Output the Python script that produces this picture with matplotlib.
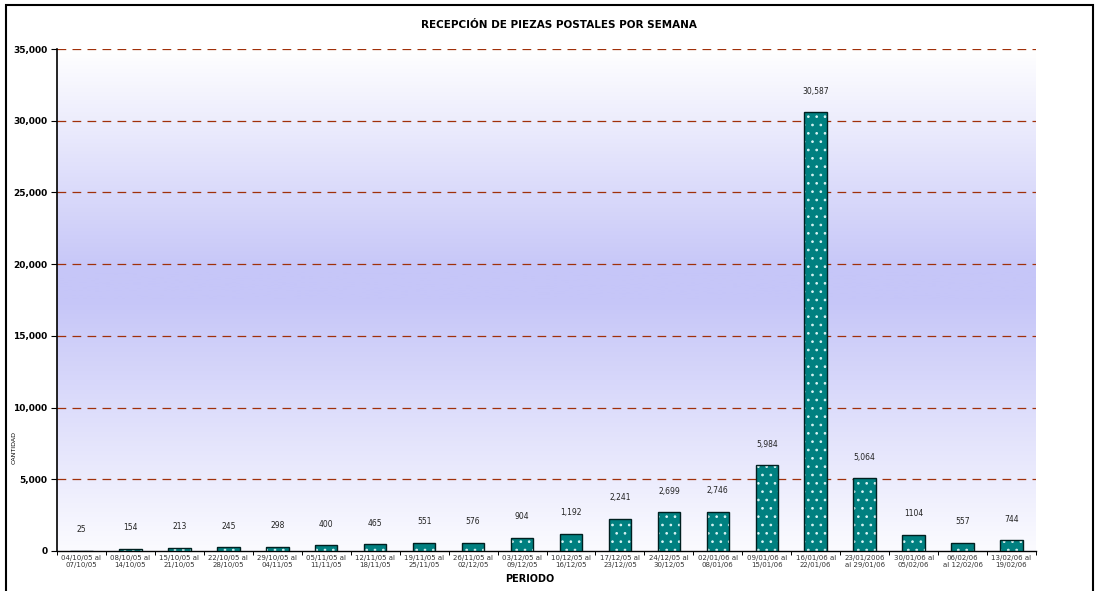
import numpy as np
import matplotlib.pyplot as plt
from matplotlib.patches import Rectangle
from matplotlib.colors import LinearSegmentedColormap

# Data
periodos = ["04/10/05 al\n07/10/05", "08/10/05 al\n14/10/05", "15/10/05 al\n21/10/05",
            "22/10/05 al\n28/10/05", "29/10/05 al\n04/11/05", "05/11/05 al\n11/11/05",
            "12/11/05 al\n18/11/05", "19/11/05 al\n25/11/05", "26/11/05 al\n02/12/05",
            "03/12/05 al\n09/12/05", "10/12/05 al\n16/12/05", "17/12/05 al\n23/12//05",
            "24/12/05 al\n30/12/05", "02/01/06 al\n08/01/06", "09/01/06 al\n15/01/06",
            "16/01/06 al\n22/01/06", "23/01/2006\nal 29/01/06", "30/01/06 al\n05/02/06",
            "06/02/06\nal 12/02/06", "13/02/06 al\n19/02/06"]
cantidad = [25, 154, 213, 245, 298, 400, 465, 551, 576, 904, 1192, 2241, 2699, 2746,
            5984, 30587, 5064, 1104, 557, 744]
etiquetas = ["25", "154", "213", "245", "298", "400", "465", "551", "576", "904", "1,192",
             "2,241", "2,699", "2,746", "5,984", "30,587", "5,064", "1104", "557", "744"]
yticks = [0, 5000, 10000, 15000, 20000, 25000, 30000, 35000]

plt.rcParams['hatch.linewidth'] = 0.7

fig = plt.figure(figsize=(10.99, 5.91), dpi=100)
ax = fig.add_axes([57/1099, 1 - 551/591, (1036 - 57)/1099, (551 - 49)/591])

# gradient background (white -> lavender -> white), 0 = bottom
cmap = LinearSegmentedColormap.from_list("bg", [(0, "#fbfbff"), (0.5, "#c6c6f8"),
                                               (0.56, "#c6c6f8"), (1.0, "#ffffff")])
grad = np.linspace(0, 1, 256).reshape(-1, 1)
ax.imshow(grad, aspect="auto", cmap=cmap, origin="lower",
          extent=(-0.5, len(cantidad) - 0.5, 0, 35000), zorder=0)

x = np.arange(len(cantidad))
ax.bar(x, cantidad, width=0.46, color="#008080", edgecolor="#d8f4f4", hatch="..",
       linewidth=0, zorder=3)
ax.bar(x, cantidad, width=0.46, fill=False, edgecolor="#002020", linewidth=1.0, zorder=4)

for xi, v, t in zip(x, cantidad, etiquetas):
    ax.annotate(t, (xi, v), xytext=(0, 12), textcoords="offset points", ha="center",
                va="bottom", fontsize=5.5, color="#222222")

for yv in yticks[1:]:
    ax.axhline(yv, color="#a0300a", linestyle=(0, (7, 5)), linewidth=0.9, zorder=2)

ax.set_xlim(-0.5, len(cantidad) - 0.5)
ax.set_ylim(0, 35000)
ax.set_yticks(yticks)
ax.set_yticklabels([f"{v:,}" for v in yticks], fontsize=6.5, fontweight="bold")
ax.set_xticks(x)
ax.set_xticklabels(periodos, fontsize=5, color="#333333")
ax.set_xticks(np.arange(len(cantidad) + 1) - 0.5, minor=True)
ax.tick_params(axis="x", which="major", length=0, pad=3)
ax.tick_params(axis="x", which="minor", length=3, width=0.7)
ax.tick_params(axis="y", length=4, width=0.8, pad=3)
for s in ["top", "right"]:
    ax.spines[s].set_visible(False)
ax.spines["left"].set_linewidth(1.2)
ax.spines["bottom"].set_linewidth(1.0)

fig.text(559/1099, 1 - 25/591, "RECEPCIÓN DE PIEZAS POSTALES POR SEMANA", ha="center",
         va="center", fontsize=7.5, fontweight="bold")
fig.text(530/1099, 1 - 579/591, "PERIODO", ha="center", va="center", fontsize=7,
         fontweight="bold")
fig.text(14/1099, 1 - 448/591, "CANTIDAD", ha="center", va="center", fontsize=4.5,
         rotation=90)

# outer frame
fig.patches.append(Rectangle((6/1099, -0.05), (1093 - 6)/1099, 1.05 - 5/591,
                             transform=fig.transFigure, fill=False, edgecolor="black",
                             linewidth=1.5))

fig.savefig("out.png", dpi=100)
